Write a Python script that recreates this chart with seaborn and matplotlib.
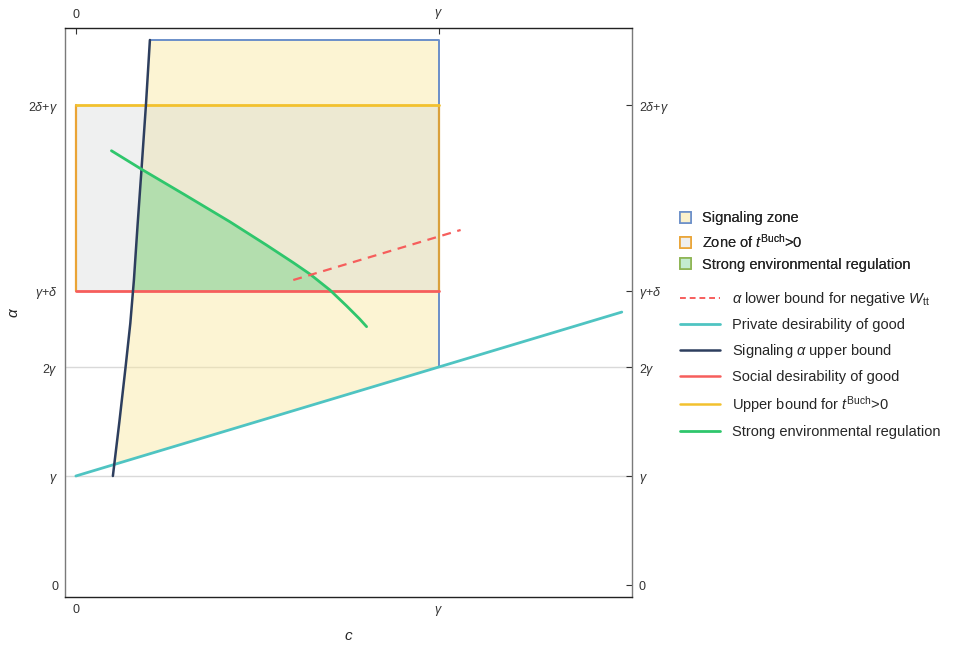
"""
Signaling zone / t^Buch zone diagram in the (c, alpha) plane.
"""

import numpy as np
import matplotlib
matplotlib.use("Agg")
import matplotlib.pyplot as plt
import seaborn as sns
import pandas as pd
from matplotlib.patches import Patch, Rectangle
from matplotlib.lines import Line2D

# ── data (gamma = 1 units) ─────────────────────────────────────────
GAMMA = 1.0
DELTA = 1.7
SIG_TOP = 5.0

# private desirability of good (teal)
teal_c = [0.0, 1.504]
teal_a = [1.0, 2.504]

# signaling alpha upper bound (navy)
navy_c = [0.102, 0.120, 0.137, 0.150, 0.160, 0.170, 0.181, 0.193, 0.204]
navy_a = [1.0, 1.5, 2.0, 2.4, 2.8, 3.3, 3.82, 4.40, 5.0]

# strong environmental regulation (green)
green_c = [0.098, 0.181, 0.300, 0.424, 0.525, 0.600, 0.645, 0.700, 0.746, 0.782, 0.801]
green_a = [3.984, 3.814, 3.580, 3.333, 3.119, 2.955, 2.852, 2.706, 2.560, 2.440, 2.370]

# alpha lower bound for negative W_tt (red dashed)
wtt_c = [0.599, 1.060]
wtt_a = [2.798, 3.257]

y_ticks = [0, GAMMA, 2 * GAMMA, GAMMA + DELTA, 2 * DELTA + GAMMA]
y_labels = ["0", r"$\gamma$", r"2$\gamma$", r"$\gamma$+$\delta$", r"2$\delta$+$\gamma$"]
x_ticks = [0, GAMMA]
x_labels = ["0", r"$\gamma$"]

C_TEAL = "#4fc4c2"
C_NAVY = "#2d3e5e"
C_RED = "#f65e5c"
C_YEL = "#f2c12e"
C_ORANGE = "#eaa436"
C_GREEN = "#2fc66c"
C_BLUE = "#6b8fc9"


def main():
    sns.set_theme(style="white")
    plt.rcParams["font.family"] = ["Liberation Sans", "DejaVu Sans"]
    plt.rcParams["mathtext.fontset"] = "custom"
    plt.rcParams["mathtext.rm"] = "Liberation Sans"
    plt.rcParams["mathtext.it"] = "Liberation Sans:italic"

    fig = plt.figure(figsize=(9.61, 6.48), dpi=100)
    ax = fig.add_axes([0.0676, 0.0787, 0.5900, 0.8781])

    # gridlines at gamma and 2 gamma
    for g in (GAMMA, 2 * GAMMA):
        ax.axhline(g, color="#d9d9d9", lw=1.0, zorder=0)

    # signaling zone (yellow)
    xs = np.linspace(navy_c[0], GAMMA, 800)
    lower = np.interp(xs, teal_c, teal_a)
    upper = np.minimum(np.interp(xs, navy_c, navy_a, right=SIG_TOP), SIG_TOP)
    ax.fill_between(xs, lower, upper, where=upper >= lower, interpolate=True,
                    facecolor="#f9e79f", alpha=0.45, lw=0, zorder=1)
    ax.plot([navy_c[-1], GAMMA, GAMMA], [SIG_TOP, SIG_TOP, 2 * GAMMA],
            color=C_BLUE, lw=1.4, zorder=3)

    # zone of t^Buch > 0 (gray)
    ax.add_patch(Rectangle((0, GAMMA + DELTA), GAMMA, DELTA,
                           facecolor="#cdd0d0", alpha=0.3, lw=0, zorder=2))
    ax.plot([0, 0], [GAMMA + DELTA, 2 * DELTA + GAMMA], color=C_ORANGE, lw=1.6, zorder=3)
    ax.plot([GAMMA, GAMMA], [GAMMA + DELTA, 2 * DELTA + GAMMA], color="#d9a03c", lw=1.6, zorder=3)

    # strong environmental regulation region (green fill)
    xg = np.linspace(navy_c[0], green_c[-1], 800)
    g_up = np.minimum(np.interp(xg, green_c, green_a, left=np.inf, right=-np.inf),
                      np.interp(xg, navy_c, navy_a, right=np.inf))
    g_lo = np.full_like(xg, GAMMA + DELTA)
    ax.fill_between(xg, g_lo, g_up, where=g_up >= g_lo, interpolate=True,
                    facecolor="#b3deae", lw=0, zorder=2.5)

    # lines
    df_teal = pd.DataFrame({"c": teal_c, "a": teal_a})
    sns.lineplot(data=df_teal, x="c", y="a", color=C_TEAL, lw=2.0, estimator=None,
                 ax=ax, zorder=4)
    df_navy = pd.DataFrame({"c": navy_c, "a": navy_a})
    sns.lineplot(data=df_navy, x="c", y="a", color=C_NAVY, lw=1.8, estimator=None,
                 sort=False, ax=ax, zorder=5)
    ax.plot([0, GAMMA], [GAMMA + DELTA] * 2, color=C_RED, lw=2.0, zorder=4)
    ax.plot([0, GAMMA], [2 * DELTA + GAMMA] * 2, color=C_YEL, lw=2.0, zorder=4)
    df_green = pd.DataFrame({"c": green_c, "a": green_a})
    sns.lineplot(data=df_green, x="c", y="a", color=C_GREEN, lw=2.0, estimator=None,
                 sort=False, ax=ax, zorder=6)
    ax.plot(wtt_c, wtt_a, color=C_RED, lw=1.6, ls=(0, (4, 3)), zorder=6)

    # axes
    ax.set_xlim(-0.030, 1.532)
    ax.set_ylim(-0.11, 5.11)
    ax.set_xticks(x_ticks)
    ax.set_xticklabels(x_labels)
    ax.set_yticks(y_ticks)
    ax.set_yticklabels(y_labels)
    ax.tick_params(direction="in", length=4, width=0.8, colors="#333333",
                   labelsize=9, top=True, right=True, labeltop=True, labelright=True,
                   pad=5)
    for s in ("left", "right"):
        ax.spines[s].set_color("#7a7a7a")
    for s in ("top", "bottom"):
        ax.spines[s].set_color("#222222")
    for s in ax.spines.values():
        s.set_linewidth(1.0)
    ax.set_xlabel(r"$c$", fontsize=11, labelpad=8)
    ax.set_ylabel(r"$\alpha$", fontsize=11, labelpad=5)

    # legends
    patch_handles = [
        Patch(facecolor="#fbf1cc", edgecolor=C_BLUE, lw=1.2, label="Signaling zone"),
        Patch(facecolor="#efefee", edgecolor=C_ORANGE, lw=1.2, label=r"Zone of $t^{\mathrm{Buch}}$>0"),
        Patch(facecolor="#c4ecd0", edgecolor="#8db453", lw=1.2, label="Strong environmental regulation"),
    ]
    leg1 = fig.legend(handles=patch_handles, loc="upper left", bbox_to_anchor=(0.708, 0.674),
                      frameon=False, fontsize=10.5, handlelength=0.75, handleheight=0.75,
                      handletextpad=0.7, labelspacing=0.5, borderpad=0, borderaxespad=0)
    fig.add_artist(leg1)
    line_handles = [
        Line2D([], [], color=C_RED, lw=1.4, ls=(0, (3, 2)),
               label=r"$\alpha$ lower bound for negative $W_{\mathrm{tt}}$"),
        Line2D([], [], color=C_TEAL, lw=2.0, label="Private desirability of good"),
        Line2D([], [], color=C_NAVY, lw=1.8, label=r"Signaling $\alpha$ upper bound"),
        Line2D([], [], color=C_RED, lw=1.8, label="Social desirability of good"),
        Line2D([], [], color=C_YEL, lw=1.8, label=r"Upper bound for $t^{\mathrm{Buch}}$>0"),
        Line2D([], [], color=C_GREEN, lw=2.0, label="Strong environmental regulation"),
    ]
    fig.legend(handles=line_handles, loc="upper left", bbox_to_anchor=(0.708, 0.552),
               frameon=False, fontsize=10.5, handlelength=2.75, handletextpad=0.8,
               labelspacing=0.68, borderpad=0, borderaxespad=0)

    fig.savefig("out.png", dpi=100)
    plt.close(fig)


if __name__ == "__main__":
    main()
